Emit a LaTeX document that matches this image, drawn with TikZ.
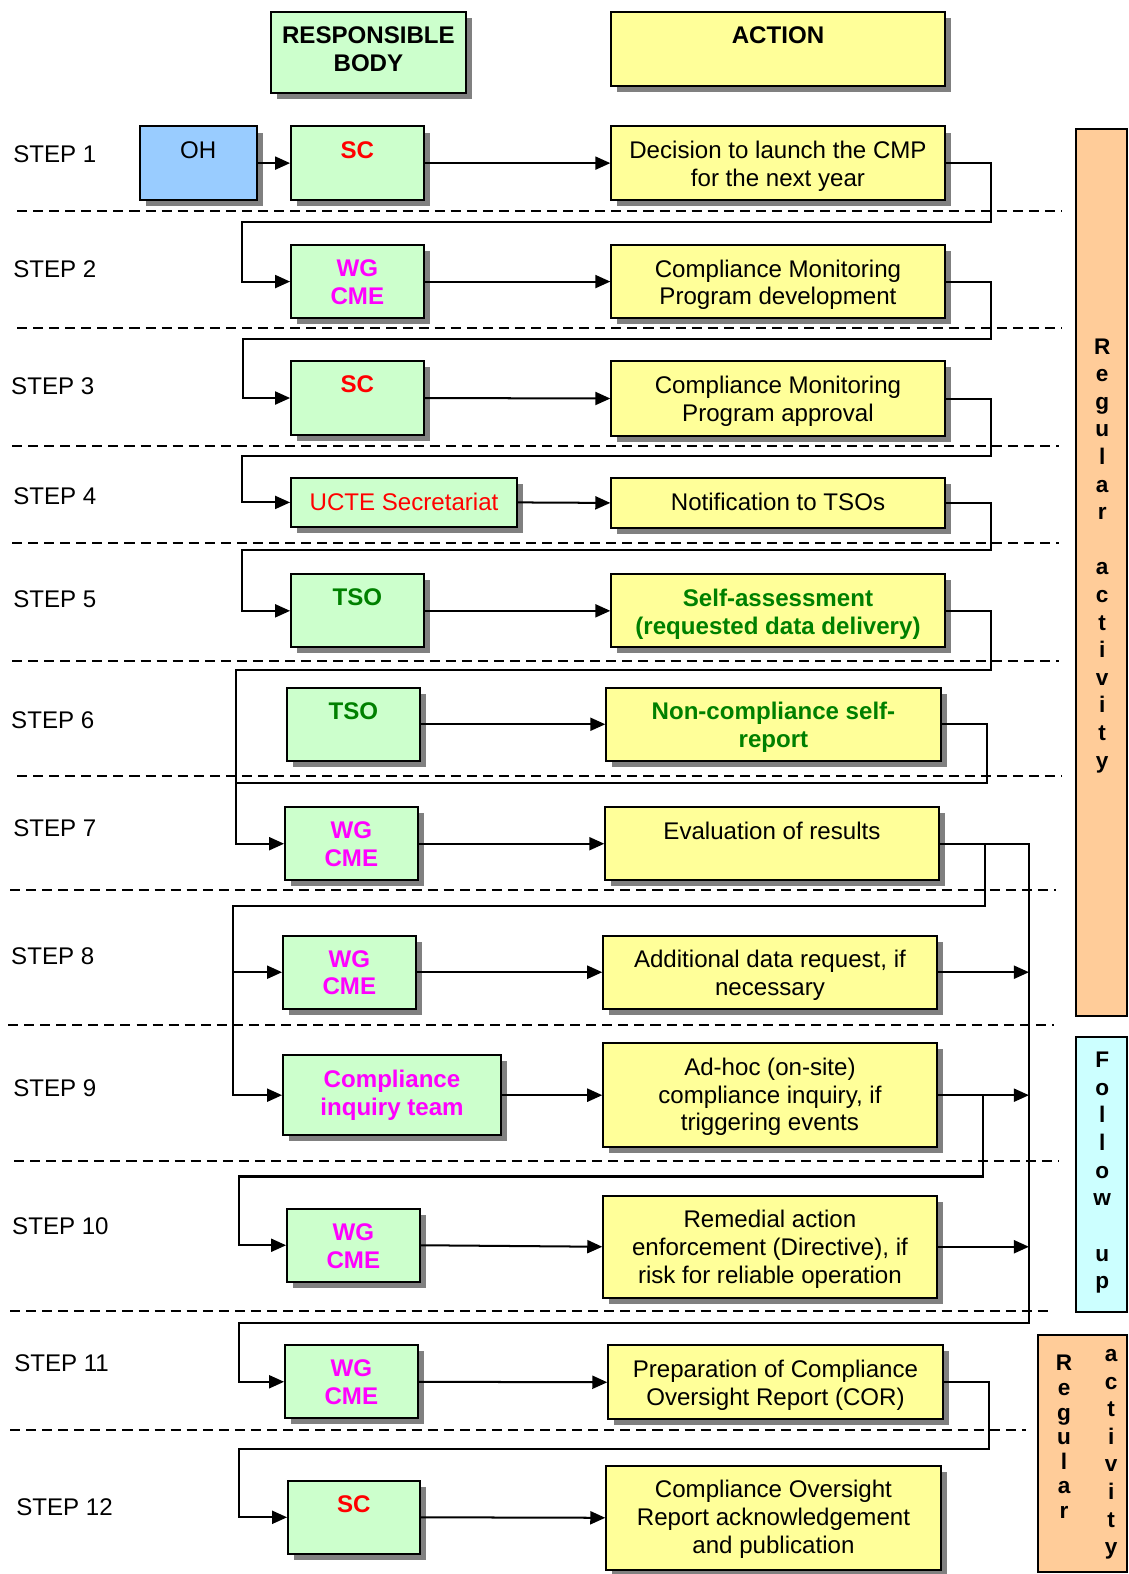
\documentclass[tikz,border=0pt]{standalone}
\usepackage{fontspec}
\setmainfont{Liberation Sans}
\usetikzlibrary{arrows.meta,shadows}
\definecolor{gfill}{HTML}{CCFFCC}
\definecolor{yfill}{HTML}{FFFF99}
\definecolor{bfill}{HTML}{99CCFF}
\definecolor{ofill}{HTML}{FFCC99}
\definecolor{cfill}{HTML}{CCFFFF}
\definecolor{shadowgray}{HTML}{808080}
\definecolor{scred}{HTML}{FF0000}
\definecolor{wgmag}{HTML}{FF00FF}
\definecolor{tsogreen}{HTML}{008000}
\begin{document}
\begin{tikzpicture}[x=1pt,y=-1pt,
  box/.style={draw=black, line width=2pt, inner sep=0pt, anchor=north west,
    drop shadow={shadow xshift=6pt, shadow yshift=-6pt, fill=shadowgray, opacity=1}},
  gbox/.style={box, fill=gfill},
  ybox/.style={box, fill=yfill},
  sidebox/.style={draw=black, line width=2pt, inner sep=0pt, anchor=north west},
  txt/.style={anchor=north, inner sep=0pt, align=center, font=\fontsize{24}{27.7}\selectfont},
  btxt/.style={anchor=north, inner sep=0pt, align=center, font=\fontsize{24}{27.7}\selectfont\bfseries},
  vtxt/.style={anchor=north, inner sep=0pt, align=center, font=\fontsize{22.5}{27.5}\selectfont\bfseries},
  steplbl/.style={anchor=west, inner sep=0pt, font=\fontsize{24}{27.7}\selectfont},
  arr/.style={line width=2pt, -{Triangle[length=15pt,width=13pt]}},
  ln/.style={line width=2pt},
  dsh/.style={line width=2pt, dash pattern=on 10pt off 6pt}
]
\useasboundingbox (0,0) rectangle (1124,1568);

% dashed separators
\draw[dsh] (17,210) -- (1058,210);
\draw[dsh] (17,327) -- (1058,327);
\draw[dsh] (12,444) -- (1055,444);
\draw[dsh] (12,541) -- (1055,541);
\draw[dsh] (12,658) -- (1055,658);
\draw[dsh] (17,773) -- (1058,773);
\draw[dsh] (10,887) -- (1052,887);
\draw[dsh] (8,1021) -- (1050,1021);
\draw[dsh] (14,1157) -- (1055,1157);
\draw[dsh] (10,1306) -- (1050,1306);
\draw[dsh] (10,1425) -- (1022,1425);

% headers
\node[gbox, minimum width=194pt, minimum height=81pt] (rb) at (269,11) {};
\node[btxt] (rbt) at ([yshift=-15.5pt]rb.north) {RESPONSIBLE\\BODY};
\node[ybox, minimum width=332pt, minimum height=74pt] (ac) at (608,11) {};
\node[btxt] (act) at ([yshift=-15.5pt]ac.north) {ACTION};

% step labels
\node[steplbl] (s1) at (13,154) {STEP 1};
\node[steplbl] (s2) at (13,268) {STEP 2};
\node[steplbl] (s3) at (11,385) {STEP 3};
\node[steplbl] (s4) at (13,494) {STEP 4};
\node[steplbl] (s5) at (13,597) {STEP 5};
\node[steplbl] (s6) at (11,717) {STEP 6};
\node[steplbl] (s7) at (13,825) {STEP 7};
\node[steplbl] (s8) at (11,953) {STEP 8};
\node[steplbl] (s9) at (13,1084) {STEP 9};
\node[steplbl] (s10) at (12,1222) {STEP 10};
\node[steplbl] (s11) at (14,1358) {STEP 11};
\node[steplbl] (s12) at (16,1501) {STEP 12};

% responsible bodies
\node[box, fill=bfill, minimum width=117pt, minimum height=73pt] (oh) at (138,125) {};
\node[txt] (oht) at ([yshift=-15.5pt]oh.north) {OH};
\node[gbox, minimum width=132pt, minimum height=73pt] (sc1) at (289,125) {};
\node[btxt, text=scred] (sc1t) at ([yshift=-15.5pt]sc1.north) {SC};
\node[gbox, minimum width=132pt, minimum height=73pt] (wg2) at (289,243) {};
\node[btxt, text=wgmag] (wg2t) at ([yshift=-15.5pt]wg2.north) {WG\\CME};
\node[gbox, minimum width=132pt, minimum height=73pt] (sc3) at (289,359) {};
\node[btxt, text=scred] (sc3t) at ([yshift=-15.5pt]sc3.north) {SC};
\node[gbox, minimum width=225pt, minimum height=49pt] (ucte) at (289,475) {};
\node[txt, text=scred] (uctet) at ([yshift=-15.5pt]ucte.north) {UCTE Secretariat};
\node[gbox, minimum width=132pt, minimum height=73pt] (tso5) at (289,571) {};
\node[btxt, text=tsogreen] (tso5t) at ([yshift=-15.5pt]tso5.north) {TSO};
\node[gbox, minimum width=132pt, minimum height=73pt] (tso6) at (285,684) {};
\node[btxt, text=tsogreen] (tso6t) at ([yshift=-15.5pt]tso6.north) {TSO};
\node[gbox, minimum width=132pt, minimum height=73pt] (wg7) at (283,803) {};
\node[btxt, text=wgmag] (wg7t) at ([yshift=-15.5pt]wg7.north) {WG\\CME};
\node[gbox, minimum width=132pt, minimum height=73pt] (wg8) at (281,931) {};
\node[btxt, text=wgmag] (wg8t) at ([yshift=-15.5pt]wg8.north) {WG\\CME};
\node[gbox, minimum width=217pt, minimum height=80pt] (ci9) at (281,1050) {};
\node[btxt, text=wgmag] (ci9t) at ([yshift=-15.5pt]ci9.north) {Compliance\\inquiry team};
\node[gbox, minimum width=132pt, minimum height=73pt] (wg10) at (285,1203) {};
\node[btxt, text=wgmag] (wg10t) at ([yshift=-15.5pt]wg10.north) {WG\\CME};
\node[gbox, minimum width=132pt, minimum height=73pt] (wg11) at (283,1339) {};
\node[btxt, text=wgmag] (wg11t) at ([yshift=-15.5pt]wg11.north) {WG\\CME};
\node[gbox, minimum width=131pt, minimum height=73pt] (sc12) at (286,1474) {};
\node[btxt, text=scred] (sc12t) at ([yshift=-15.5pt]sc12.north) {SC};

% actions
\node[ybox, minimum width=332pt, minimum height=73pt] (act1) at (608,125) {};
\node[txt] (act1t) at ([yshift=-15.5pt]act1.north) {Decision to launch the CMP\\for the next year};
\node[ybox, minimum width=332pt, minimum height=73pt] (act2) at (608,243) {};
\node[txt] (act2t) at ([yshift=-15.5pt]act2.north) {Compliance Monitoring\\Program development};
\node[ybox, minimum width=332pt, minimum height=74pt] (act3) at (608,359) {};
\node[txt] (act3t) at ([yshift=-15.5pt]act3.north) {Compliance Monitoring\\Program approval};
\node[ybox, minimum width=332pt, minimum height=50pt] (act4) at (608,475) {};
\node[txt] (act4t) at ([yshift=-15.5pt]act4.north) {Notification to TSOs};
\node[ybox, minimum width=332pt, minimum height=73pt] (act5) at (608,571) {};
\node[btxt, text=tsogreen] (act5t) at ([yshift=-15.5pt]act5.north) {Self-assessment\\(requested data delivery)};
\node[ybox, minimum width=333pt, minimum height=73pt] (act6) at (603,684) {};
\node[btxt, text=tsogreen] (act6t) at ([yshift=-15.5pt]act6.north) {Non-compliance self-\\report};
\node[ybox, minimum width=332pt, minimum height=73pt] (act7) at (602,803) {};
\node[txt] (act7t) at ([yshift=-15.5pt]act7.north) {Evaluation of results};
\node[ybox, minimum width=332pt, minimum height=73pt] (act8) at (600,931) {};
\node[txt] (act8t) at ([yshift=-15.5pt]act8.north) {Additional data request, if\\necessary};
\node[ybox, minimum width=332pt, minimum height=104pt] (act9) at (600,1038) {};
\node[txt] (act9t) at ([yshift=-15.5pt]act9.north) {Ad-hoc (on-site)\\compliance inquiry, if\\triggering events};
\node[ybox, minimum width=332pt, minimum height=102pt] (act10) at (600,1190) {};
\node[txt] (act10t) at ([yshift=-15.5pt]act10.north) {Remedial action\\enforcement (Directive), if\\risk for reliable operation};
\node[ybox, minimum width=333pt, minimum height=74pt] (act11) at (605,1339) {};
\node[txt] (act11t) at ([yshift=-15.5pt]act11.north) {Preparation of Compliance\\Oversight Report (COR)};
\node[ybox, minimum width=333pt, minimum height=104pt] (act12) at (603,1459) {};
\node[txt] (act12t) at ([yshift=-15.5pt]act12.north) {Compliance Oversight\\Report acknowledgement\\and publication};

% side bars
\node[sidebox, fill=ofill, minimum width=51pt, minimum height=883pt] (reg1) at (1071,128) {};
\node[vtxt] (reg1t) at (1098,337) {R\\e\\g\\u\\l\\a\\r\\[27.5pt]a\\c\\t\\i\\v\\i\\t\\y};
\node[sidebox, fill=cfill, minimum width=51pt, minimum height=274pt] (fu) at (1071,1032) {};
\node[vtxt] (fut) at (1098,1048) {F\\o\\l\\l\\o\\w\\[27.5pt]u\\p};
\node[sidebox, fill=ofill, minimum width=89pt, minimum height=236pt] (reg2) at (1033,1329) {};
\node[vtxt, font=\fontsize{22.5}{24.5}\selectfont\bfseries] (reg2l) at (1060,1350) {R\\e\\g\\u\\l\\a\\r};
\node[vtxt] (reg2r) at (1107,1344) {a\\c\\t\\i\\v\\i\\t\\y};

% bus coordinate
\coordinate (bus) at (1025,0);

% horizontal arrows
\draw[arr] (oh.east) -- (sc1.west);
\draw[arr] (sc1.east) -- (act1.west);
\draw[arr] (wg2.east) -- (act2.west);
\draw[arr] (sc3.east) -- (act3.west);
\draw[arr] (ucte.east) -- (act4.west);
\draw[arr] (tso5.east) -- (act5.west);
\draw[arr] (tso6.east) -- (act6.west);
\draw[arr] (wg7.east) -- (act7.west);
\draw[arr] (wg8.east) -- (act8.west);
\draw[arr] (ci9.east) -- (act9.west);
\draw[arr] (wg10.east) -- (act10.west);
\draw[arr] (wg11.east) -- (act11.west);
\draw[arr] (sc12.east) -- (act12.west);

% step-to-step connectors
\draw[arr] (act1.east) -| (987,221) -- (241,221) |- (wg2.west);
\draw[arr] (act2.east) -| (987,338) -- (242,338) |- (sc3.west);
\draw[arr] (act3.east) -| (987,454) -- (241,454) |- (ucte.west);
\draw[arr] (act4.east) -| (987,548) -- (241,548) |- (tso5.west);
\draw[arr] (act5.east) -| (987,667) -- (235,667) |- (wg7.west);
\draw[ln] (act6.east) -| (983,780) -- (235,780);
\draw[arr] (act7.east) -| (981,903) -- (232,903) |- (wg8.west);
\draw[arr] (232,960) |- (ci9.west);
\draw[arr] (act7.east) -| (1025,1318) -- (238,1318) |- (wg11.west);
\draw[arr] (act8.east) -- (act8.east -| bus);
\draw[arr] (act9.east) -- (act9.east -| bus);
\draw[arr] (act10.east) -- (act10.east -| bus);
\draw[arr] (act9.east) -| (979,1172) -- (238,1172) |- (wg10.west);
\draw[arr] (act11.east) -| (985,1443) -- (238,1443) |- (sc12.west);
\end{tikzpicture}
\end{document}
